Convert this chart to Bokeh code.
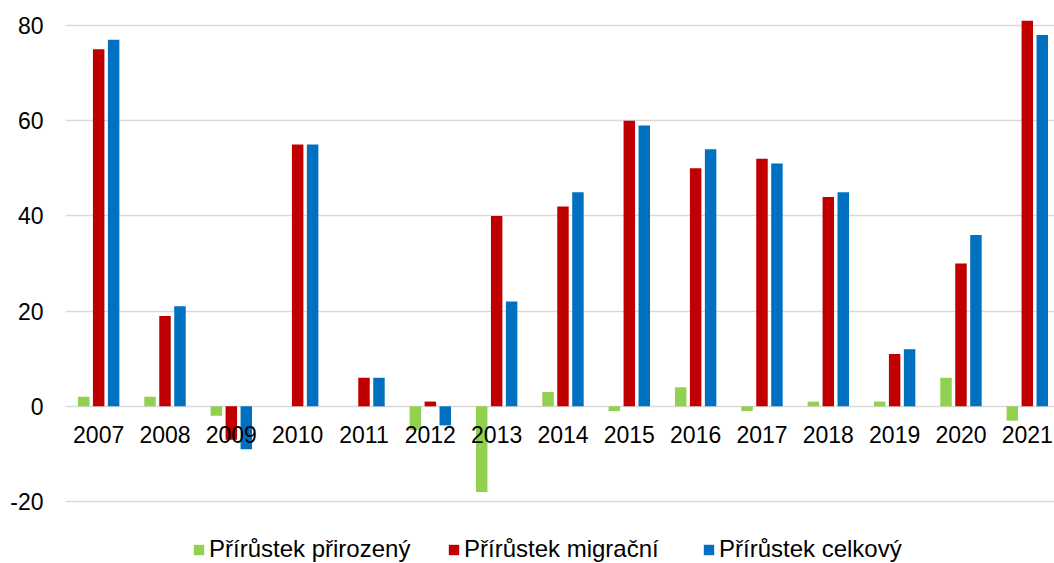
from bokeh.plotting import figure
from bokeh.models import ColumnDataSource, FixedTicker, Legend, LegendItem, Range1d, PrintfTickFormatter
from bokeh.transform import dodge
from bokeh.core.properties import value
from bokeh.embed import file_html
from bokeh.resources import INLINE

years = [2007, 2008, 2009, 2010, 2011, 2012, 2013, 2014, 2015, 2016, 2017, 2018, 2019, 2020, 2021]
year_labels = [str(y) for y in years]
natural = [2, 2, -2, 0, 0, -5, -18, 3, -1, 4, -1, 1, 1, 6, -3]
migration = [75, 19, -7, 55, 6, 1, 40, 42, 60, 50, 52, 44, 11, 30, 81]
total = [77, 21, -9, 55, 6, -4, 22, 45, 59, 54, 51, 45, 12, 36, 78]
series_names = ["Přírůstek přirozený", "Přírůstek migrační", "Přírůstek celkový"]
colors = ["#92D050", "#C00000", "#0070C0"]
y_ticks = [-20, 0, 20, 40, 60, 80]

src = ColumnDataSource(dict(x=years, lab=year_labels, zero=[0] * len(years),
                            nat=natural, mig=migration, tot=total))

FONT = "Liberation Sans"
FS = "23px"

# frame extends to the bottom of the figure so the legend can sit inside it
p = figure(width=1054, height=563, output_backend="svg", toolbar_location=None,
           x_range=Range1d(2006.5, 2021.41), y_range=Range1d(-33.02, 84),
           min_border_left=65, min_border_right=0, min_border_top=6, min_border_bottom=0)
p.outline_line_color = None
p.xaxis.visible = False
p.xgrid.visible = False
p.ygrid.grid_line_color = "#D9D9D9"
p.ygrid.grid_line_width = 1.5
p.yaxis.ticker = FixedTicker(ticks=y_ticks)
p.yaxis.formatter = PrintfTickFormatter(format="%d")
p.yaxis.axis_line_color = None
p.yaxis.major_tick_line_color = None
p.yaxis.minor_tick_line_color = None
p.yaxis.major_tick_out = 0
p.yaxis.major_tick_in = 0
p.yaxis.major_label_standoff = 22
p.yaxis.major_label_text_font = FONT
p.yaxis.major_label_text_font_size = FS
p.yaxis.major_label_text_color = "#000000"

w = 0.173
offsets = [-0.2256, 0.0, 0.2256]
cols = ["nat", "mig", "tot"]
renderers = []
for col, off, c in zip(cols, offsets, colors):
    r = p.vbar(x=dodge("x", off), top=col, bottom=0, width=w, source=src,
               fill_color=c, line_color=None)
    renderers.append(r)

p.text(x="x", y="zero", text="lab", source=src, text_align="center",
       text_baseline="middle", y_offset=28, text_font=value(FONT),
       text_font_size=FS, text_color="#000000")

legend = Legend(items=[LegendItem(label=n, renderers=[r]) for n, r in zip(series_names, renderers)],
                orientation="horizontal", location=(127, 0))
legend.label_text_font = FONT
legend.label_text_font_size = "24px"
legend.label_text_color = "#000000"
legend.glyph_width = 13
legend.glyph_height = 13
legend.label_standoff = 4
legend.label_width = 238
legend.label_height = 24
legend.spacing = 0
legend.padding = 0
legend.margin = 0
legend.border_line_color = None
legend.background_fill_alpha = 0
p.add_layout(legend, "center")

open("out.html", "w").write(file_html(p, INLINE))
